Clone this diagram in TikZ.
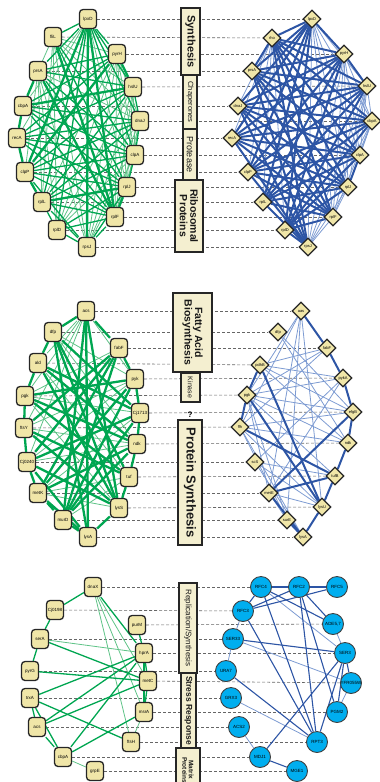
\documentclass[tikz,border=0pt]{standalone}
\usepackage{fontspec}
\setmainfont{Liberation Sans}
\usetikzlibrary{shapes.geometric}
\usetikzlibrary{backgrounds}

\definecolor{netgreen}{RGB}{0,166,81}
\definecolor{netgreenlt}{RGB}{95,195,135}
\definecolor{netblue}{RGB}{45,85,165}
\definecolor{netbluelt}{RGB}{125,155,210}
\definecolor{genefill}{RGB}{240,230,168}
\definecolor{catfill}{RGB}{244,239,208}
\definecolor{yeastcyan}{RGB}{0,174,239}
\newcommand{\fs}[1]{\fontsize{#1}{#1}\selectfont}

\tikzset{
  gene/.style={draw=black!85, line width=1.3pt, fill=genefill, rounded corners=3.5pt,
    minimum width=17pt, minimum height=19pt, inner sep=1pt, font=\fs{4.5}},
  gened/.style={diamond, draw=black!85, line width=1.2pt, fill=genefill,
    minimum size=18pt, inner sep=0pt, font=\fs{4}},
  yeast/.style={circle, draw=black!75, line width=0.9pt, fill=yeastcyan,
    minimum size=21pt, inner sep=0pt, font=\fs{4.5}},
  catbox/.style={draw=black!85, line width=2pt, fill=catfill, rotate=-90,
    align=center, inner sep=1pt, text=black!90},
  rowline/.style={dash pattern=on 3pt off 2pt, draw=black!60, line width=0.6pt},
  gA/.style={netgreen, line width=2.3pt},
  gB/.style={netgreen, line width=1.3pt},
  gC/.style={netgreenlt, line width=0.8pt},
  bA/.style={netblue, line width=2pt},
  bB/.style={netblue, line width=1.1pt},
  bC/.style={netbluelt, line width=0.8pt},
}

\begin{document}
\begin{tikzpicture}[x=1pt,y=-1pt]
  \useasboundingbox (0,0) rectangle (380,782);

  % chaperone / ribosome module
  \foreach \n/\x/\y/\t in {1/88/19/lpxD, 2/53/37/fliL, 3/117/54/pyrH, 4/38/71/prsA,
      5/133/87/hslU, 6/23/106/cbpA, 7/140/121/dnaJ, 8/17/138/recA, 9/135/155/clpA,
      10/25/172/clpP, 11/127/187/rplJ, 12/42/202/rplL, 13/115/217/rplF,
      14/57/230/rplD, 15/87/247/rpsJ}
    \node[gene] (t\n) at (\x,\y) {\t};
  \foreach \n/\x/\y/\t in {1/312/19/lpxD, 2/272/38/rho, 3/344/54/pyrH, 4/252/71/prsA,
      5/367/86/hslU, 6/238/106/dnaJ, 7/372/121/cbpA, 8/232/138/recA, 9/360/155/clpA,
      10/248/172/clpP, 11/348/187/rplJ, 12/263/202/rplL, 13/333/217/rplF,
      14/285/230/rplD, 15/308/247/rpsJ}
    \node[gened] (u\n) at (\x,\y) {\t};

  % metabolism / translation module
  \foreach \n/\x/\y/\t in {1/86/311/acs, 2/53/332/dfp, 3/119/348/fabF, 4/38/363/ald,
      5/135/379/pyk, 6/25/396/pgk, 7/140/413/Cj1713, 8/24/428/ftsY, 9/137/444/ndk,
      10/27/462/Cj0240, 11/129/477/tuf, 12/38/493/metK, 13/119/508/lysS,
      14/63/520/murD, 15/88/537/lysA}
    \node[gene] (m\n) at (\x,\y) {\t};
  \foreach \n/\x/\y/\t in {1/301/311/aas, 2/278/332/dfp, 3/327/348/fabF, 4/260/365/pdhB,
      5/343/378/pykA, 6/247/395/pgk, 7/353/412/efgB, 8/240/427/ffh, 9/348/443/ndk,
      10/255/462/scS, 11/335/476/tufB, 12/269/493/metE, 13/322/507/lysU,
      14/287/520/surE, 15/303/537/lysA}
    \node[gened] (n\n) at (\x,\y) {\t};

  % replication / stress module
  \foreach \n/\x/\y/\t in {1/93/587/dnaX, 2/55/610/Cj0198, 3/137/625/purM, 4/40/639/serA,
      5/144/653/hprA, 6/30/671/pyrG, 7/148/681/metC, 8/30/698/trxA, 9/144/712/msrA,
      10/37/727/acs, 11/131/742/ftsH, 12/63/757/cbpA, 13/95/771/grpE}
    \node[gene] (b\n) at (\x,\y) {\t};
  \foreach \n/\x/\y/\t in {1/261/587/RFC4, 2/243/611/RFC3, 3/333/624/{ADE5,7},
      4/233/639/SER33, 5/345/653/SER3, 6/226/671/URA7, 7/351/683/YFR055W,
      8/231/698/GRX3, 9/337/712/PGM2, 10/239/727/ACS2, 11/317/742/RPT3,
      12/260/757/MDJ1, 13/297/771/MGE1, 14/299/587/RFC2, 15/337/587/RFC5}
    \node[yeast] (c\n) at (\x,\y) {\t};

  % category labels
  \node[catbox, minimum width=67pt, minimum height=19pt, font=\fs{11}\bfseries] (synth) at (190.5,41.5) {Synthesis};
  \node[catbox, minimum width=54pt, minimum height=14pt, font=\fs{7.5}] (chap) at (190,102) {Chaperones};
  \node[catbox, minimum width=51pt, minimum height=14pt, font=\fs{9}] (prot) at (190,154.5) {Protease};
  \node[catbox, minimum width=72pt, minimum height=28pt, font=\fs{10.5}\bfseries] (ribo) at (189,216) {Ribosomal\\Proteins};
  \node[catbox, minimum width=79pt, minimum height=39pt, font=\fs{10.5}\bfseries] (fatty) at (192.5,332.5) {Fatty Acid\\Biosynthesis};
  \node[catbox, minimum width=29pt, minimum height=19pt, font=\fs{7}] (kin) at (190.5,387.5) {Kinase};
  \node[font=\fs{8}\bfseries, inner sep=0pt] (unk) at (190,415) {?};
  \node[catbox, minimum width=125pt, minimum height=24pt, font=\fs{13}\bfseries] (psyn) at (190,482.5) {Protein Synthesis};
  \node[catbox, minimum width=90pt, minimum height=18pt, font=\fs{8}] (repl) at (188,628) {Replication/Synthesis};
  \node[catbox, minimum width=75pt, minimum height=15pt, font=\fs{8.5}\bfseries] (stress) at (188.5,710.5) {Stress Response};
  \node[catbox, minimum width=44pt, minimum height=24pt, font=\fs{6.5}\bfseries] (matrix) at (188,770) {Matrix\\Proteins};

  \begin{scope}[on background layer]
    % rows
    \foreach \k in {1,...,15} \draw[rowline] (t\k) -- (u\k);
    \foreach \k in {1,...,15} \draw[rowline] (m\k) -- (n\k);
    \foreach \k in {1,...,13} \draw[rowline] (b\k) -- (c\k);

    % top left
    \foreach \a/\b in {2/3,2/4,2/5,2/7,2/12,2/14,3/7,3/9,3/11,3/13,3/15,3/12,3/14,
        4/7,4/10,4/12,4/14,4/15,2/15,5/9,5/11,5/13,5/15,5/14,7/11,7/13,7/15,7/14,
        9/13,9/15,9/14,1/6,1/8,1/11}
      \draw[gC] (t\a) -- (t\b);
    \foreach \a/\b in {1/2,1/3,1/4,1/5,1/7,1/9,1/12,1/14,2/9,2/11,3/4,3/6,3/8,
        4/5,4/9,4/11,5/8,5/10,5/12,6/7,6/9,6/11,6/13,7/8,7/10,7/12,8/9,8/11,8/13,
        9/10,9/12,10/11,10/13,10/15,11/14,11/15,12/13,12/15,13/14,13/15,14/15,
        9/11,5/7,7/9,12/14}
      \draw[gB] (t\a) -- (t\b);
    \foreach \a/\b in {1/10,1/13,1/15,4/13,5/6,11/12,3/10,6/8,8/10,4/6,3/5,11/13,2/13,10/12}
      \draw[gA] (t\a) -- (t\b);

    % top right
    \foreach \a/\b in {1/5,1/7,1/9,1/11,1/13,1/15,2/6,2/8,2/10,2/12,2/14,3/7,3/9,3/11,
        3/13,3/15,5/7,5/9,5/11,5/13,5/15,7/9,7/11,7/13,7/15,11/13,11/15,13/15}
      \draw[bC] (u\a) -- (u\b);
    \foreach \a/\b in {1/2,1/3,1/4,1/6,1/8,1/10,1/12,1/14,2/3,2/4,2/5,2/7,2/9,2/11,
        2/13,2/15,3/4,3/6,3/8,3/10,3/12,3/14,4/5,4/7,4/9,4/11,4/13,4/15,5/6,5/8,
        5/10,5/12,5/14,6/7,6/9,6/11,6/13,6/15,7/8,7/10,7/12,7/14,8/9,8/11,8/13,
        8/15,9/10,9/12,9/14,10/11,10/13,10/15,11/12,11/14,12/13,12/15,13/14,14/15,
        3/5,9/11}
      \draw[bA] (u\a) -- (u\b);

    % middle left
    \foreach \a/\b in {1/4,1/6,1/8,1/10,2/5,2/9,3/6,4/11,5/8,5/10,6/13,7/12,8/9,9/10,
        11/12,11/14,12/13,6/7,1/5}
      \draw[gC] (m\a) -- (m\b);
    \foreach \a/\b in {2/4,4/6,6/8,8/10,10/12,12/14,3/5,5/7,7/9,9/11,11/13,13/15,1/2,
        1/3,1/13,1/14,1/15,2/13,2/15,2/11,3/12,3/14,4/13,4/9,4/7,5/12,5/14,5/6,6/9,
        6/11,7/10,7/14,8/11,8/13,9/12,9/14,10/13,10/15,3/8,2/7,3/10,12/15,14/15}
      \draw[gA] (m\a) -- (m\b);

    % middle right
    \foreach \a/\b in {1/6,1/8,1/12,1/13,1/14,2/7,3/4,3/6,3/8,4/5,4/7,5/6,5/12,5/10,
        6/7,6/9,6/11,6/12,6/14,8/7,8/9,8/13,8/14,8/15,10/11,10/13,10/15,12/13,
        12/14,2/9,4/9}
      \draw[bC] (n\a) -- (n\b);
    \foreach \a/\b in {1/3,3/5,5/7,7/9,9/11,11/13,13/15,4/6,6/8,4/13,6/13,8/11,7/12,
        12/11,12/15,14/15}
      \draw[bA] (n\a) -- (n\b);

    % bottom left
    \foreach \a/\b in {1/7,1/9,1/11,4/5,9/11,12/13}
      \draw[gC] (b\a) -- (b\b);
    \foreach \a/\b in {1/2,2/4,4/6,1/5,3/5,4/7,6/7,5/7,5/9,7/9,5/8,5/10,5/12,7/10,
        8/10,8/12,8/11,10/12,9/12}
      \draw[gB] (b\a) -- (b\b);

    % bottom right
    \foreach \a/\b in {1/15,1/5,2/4,4/6,4/7,3/5,8/11,10/12,9/7}
      \draw[bC] (c\a) -- (c\b);
    \foreach \a/\b in {1/14,14/15,1/2,2/14,2/15,1/3,14/3,1/11,2/11,14/11,14/9,4/5,
        5/7,5/9,5/11,5/12,6/11,12/13}
      \draw[bB] (c\a) -- (c\b);
  \end{scope}
\end{tikzpicture}
\end{document}
